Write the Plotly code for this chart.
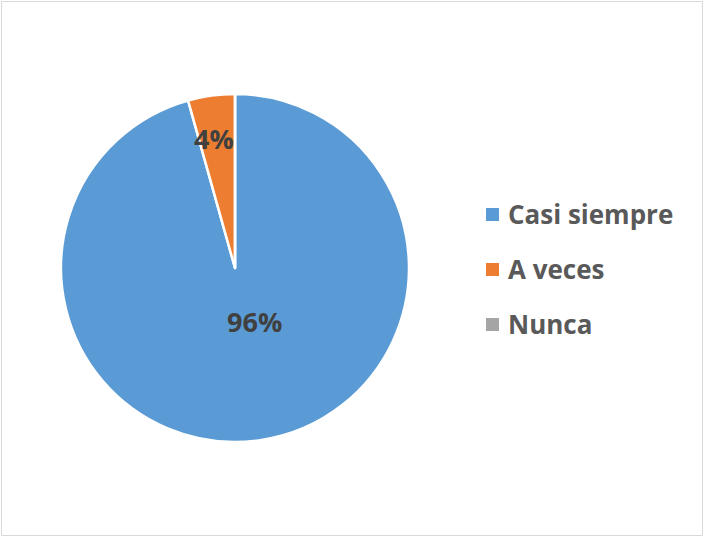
import math
import plotly.graph_objects as go

labels = ["Casi siempre", "A veces", "Nunca"]
values = [22, 1, 0]
colors = ["#5B9BD5", "#ED7D31", "#A5A5A5"]

W, H = 704, 538

# pie geometry (pixels)
CX, CY, R = 235, 268, 174
# label placement style: radial fraction of radius, extra x shift (px)
label_r = [0.31, 0.75]
label_dx = [12, -3]

fig = go.Figure()
fig.add_trace(go.Pie(
    labels=labels,
    values=values,
    sort=False,
    direction="clockwise",
    rotation=0,
    marker=dict(colors=colors, line=dict(color="white", width=2.5)),
    textinfo="none",
    domain=dict(x=[(CX - R) / W, (CX + R) / W], y=[(H - CY - R) / H, (H - CY + R) / H]),
    showlegend=False,
    hoverinfo="label+percent",
))

# percentage labels, placed at each slice's mid-angle
total = sum(values)
cum = 0
for i, v in enumerate(values):
    if v <= 0:
        cum += v
        continue
    mid = (cum + v / 2) / total * 2 * math.pi  # clockwise from top
    cum += v
    rr = label_r[i] * R
    px = CX + rr * math.sin(mid) + label_dx[i]
    py = CY - rr * math.cos(mid)
    fig.add_annotation(x=px / W, y=(H - py) / H, xref="paper", yref="paper",
                       text=f"{round(v / total * 100)}%", showarrow=False,
                       xanchor="center", yanchor="middle",
                       font=dict(family="Open Sans", size=27, color="#404040", weight="bold"))

# custom legend
legend_y = [214, 269, 324]
for lab, col, yy in zip(labels, colors, legend_y):
    fig.add_shape(type="rect", xref="paper", yref="paper",
                  x0=486 / W, x1=499 / W, y0=(H - yy - 7) / H, y1=(H - yy + 6) / H,
                  fillcolor=col, line=dict(width=0))
    fig.add_annotation(x=506 / W, y=(H - yy) / H, xref="paper", yref="paper",
                       text=lab, showarrow=False, xanchor="left", yanchor="middle",
                       font=dict(family="Open Sans", size=26, color="#595959", weight="bold"))

fig.add_shape(type="rect", xref="paper", yref="paper",
              x0=1.5 / W, x1=702.5 / W, y0=2.5 / H, y1=(H - 1.5) / H,
              line=dict(color="#D9D9D9", width=1), fillcolor="rgba(0,0,0,0)")

fig.update_layout(width=W, height=H, margin=dict(l=0, r=0, t=0, b=0),
                  paper_bgcolor="white", plot_bgcolor="white")
fig.write_html("out.html", config={"displayModeBar": False},
               post_script="document.body.style.margin='0';")
